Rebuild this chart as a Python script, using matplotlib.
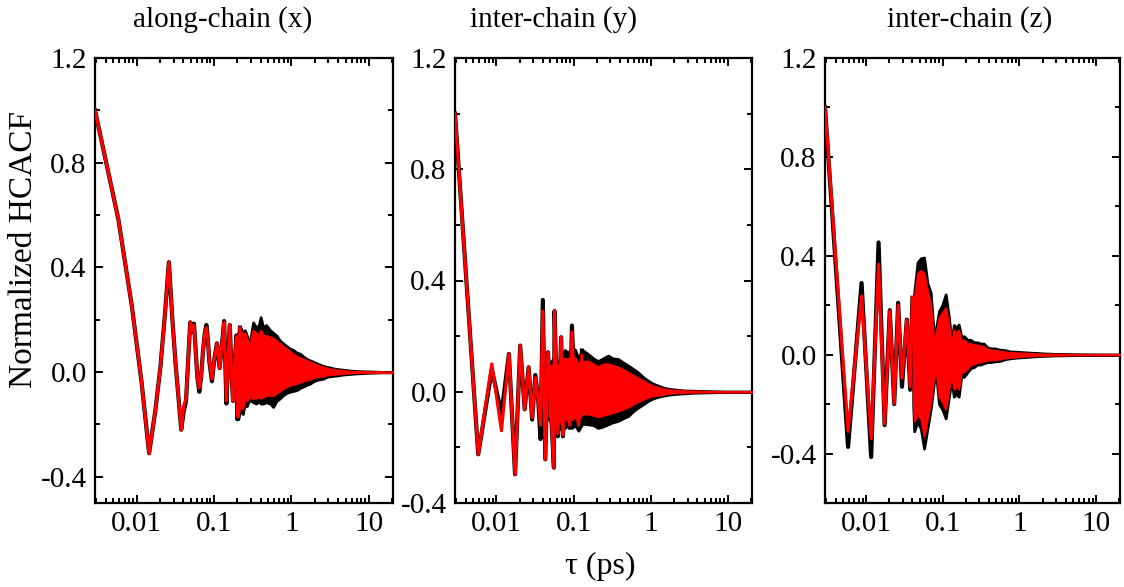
import matplotlib

matplotlib.use("Agg")
import matplotlib.pyplot as plt
from matplotlib.ticker import FixedLocator, FormatStrFormatter, FuncFormatter, LogLocator, NullFormatter

plt.rcParams["font.family"] = ["Liberation Serif", "DejaVu Serif"]
plt.rcParams["axes.unicode_minus"] = False

# ---- data ----
titles = ["along-chain (x)", "inter-chain (y)", "inter-chain (z)"]
ylims = [(-0.5, 1.2), (-0.4, 1.2), (-0.6, 1.2)]

# panel 1: resolved part of the curves
tau1 = [0.0029, 0.0058, 0.0087, 0.0116, 0.0145, 0.0174, 0.0203, 0.0232, 0.0261, 0.029,
        0.0319, 0.0348, 0.0377, 0.0406, 0.0435, 0.0464, 0.0493, 0.0522, 0.0551, 0.058,
        0.0609, 0.0645, 0.068, 0.072, 0.076, 0.0797, 0.083, 0.087, 0.094, 0.101,
        0.109, 0.118, 0.126, 0.135, 0.1445, 0.152, 0.16, 0.168, 0.176, 0.186,
        0.195, 0.2, 0.208, 0.216]
red1 = [1.0, 0.585, 0.25, -0.04, -0.31, -0.15, 0.02, 0.22, 0.42, 0.2,
        0.03, -0.1, -0.22, -0.13, -0.1, 0.05, 0.19, 0.155, 0.18, 0.08,
        -0.02, -0.06, -0.02, 0.08, 0.15, 0.17, 0.13, 0.04, -0.025, 0.05,
        0.11, 0.015, 0.1, 0.19, -0.11, 0.05, 0.18, 0.0, -0.11, 0.05,
        0.136, -0.17, 0.0, 0.168]
black1 = [1.0, 0.585, 0.25, -0.04, -0.31, -0.15, 0.02, 0.22, 0.42, 0.2,
          0.03, -0.1, -0.22, -0.15, -0.11, 0.05, 0.19, 0.155, 0.185, 0.08,
          -0.02, -0.075, -0.02, 0.08, 0.15, 0.18, 0.13, 0.04, -0.035, 0.05,
          0.11, 0.015, 0.1, 0.195, -0.12, 0.05, 0.18, 0.0, -0.11, 0.05,
          0.14, -0.18, 0.0, 0.17]

# panel 1: dense part (envelopes)
band_tau1 = [0.205, 0.22, 0.235, 0.25, 0.265, 0.28, 0.29, 0.30, 0.32, 0.35,
             0.38, 0.40, 0.43, 0.47, 0.53, 0.58, 0.64, 0.71, 0.78, 0.86,
             0.95, 1.05, 1.16, 1.3, 1.42, 1.58, 1.73, 1.9, 2.11, 2.35,
             2.57, 2.85, 3.14, 3.5, 3.83, 4.67, 5.7, 6.95, 9.0, 11.4, 15.0, 20.5]
black_hi1 = [0.15, 0.17, 0.15, 0.16, 0.14, 0.12, 0.04, 0.14, 0.19, 0.17,
             0.18, 0.21, 0.17, 0.18, 0.16, 0.15, 0.14, 0.12, 0.11, 0.1,
             0.09, 0.085, 0.075, 0.07, 0.06, 0.05, 0.045, 0.04, 0.034, 0.028,
             0.024, 0.02, 0.018, 0.014, 0.012, 0.009, 0.006, 0.004, 0.003, 0.002, 0.001, 0.001]
black_lo1 = [-0.18, -0.14, -0.16, -0.12, -0.13, -0.11, -0.03, -0.11, -0.115, -0.12,
             -0.11, -0.12, -0.12, -0.115, -0.12, -0.133, -0.11, -0.1, -0.088, -0.08,
             -0.075, -0.072, -0.069, -0.06, -0.055, -0.048, -0.044, -0.036, -0.03, -0.027,
             -0.025, -0.018, -0.016, -0.014, -0.013, -0.009, -0.007, -0.005, -0.003, -0.002, -0.001, -0.001]
red_hi1 = [0.14, 0.16, 0.14, 0.15, 0.13, 0.11, 0.03, 0.13, 0.16, 0.15,
           0.14, 0.16, 0.14, 0.14, 0.135, 0.13, 0.12, 0.11, 0.1, 0.09,
           0.08, 0.07, 0.06, 0.055, 0.05, 0.045, 0.04, 0.034, 0.028, 0.024,
           0.02, 0.016, 0.013, 0.011, 0.009, 0.006, 0.004, 0.003, 0.002, 0.001, 0.001, 0.001]
red_lo1 = [-0.17, -0.12, -0.14, -0.1, -0.11, -0.1, -0.02, -0.1, -0.1, -0.1,
           -0.095, -0.1, -0.095, -0.09, -0.088, -0.09, -0.08, -0.072, -0.063, -0.056,
           -0.05, -0.047, -0.044, -0.038, -0.034, -0.03, -0.028, -0.022, -0.018, -0.016,
           -0.015, -0.011, -0.01, -0.009, -0.008, -0.005, -0.003, -0.002, -0.001, -0.001, -0.001, -0.001]

# panel 2
tau2 = [0.0029, 0.0058, 0.0087, 0.0116, 0.0145, 0.0174, 0.0203, 0.0232, 0.0261, 0.029,
        0.0319, 0.0348, 0.0372, 0.0399, 0.0429, 0.0465, 0.0502, 0.0555, 0.0566, 0.0625,
        0.069, 0.0726, 0.0801, 0.089, 0.095, 0.105, 0.116, 0.128]
red2 = [1.0, -0.225, 0.1, -0.14, 0.136, -0.297, 0.166, -0.063, 0.088, -0.093,
        0.05, -0.03, -0.12, 0.29, -0.243, 0.142, -0.04, -0.273, 0.29, -0.15,
        0.196, -0.155, 0.105, -0.12, 0.215, -0.05, -0.12, 0.13]
black2 = [1.0, -0.225, 0.08, -0.08, 0.136, -0.297, 0.166, -0.063, 0.088, -0.1,
          0.06, -0.03, -0.17, 0.33, -0.243, 0.142, -0.04, -0.273, 0.29, -0.16,
          0.196, -0.16, 0.11, -0.13, 0.238, -0.05, -0.13, 0.148]

band_tau2 = [0.048, 0.055, 0.062, 0.07, 0.077, 0.085, 0.095, 0.105, 0.115, 0.13,
             0.153, 0.18, 0.207, 0.24, 0.28, 0.32, 0.375, 0.44, 0.51, 0.59,
             0.68, 0.8, 0.92, 1.05, 1.24, 1.45, 1.67, 2.05, 2.6, 3.3,
             4.3, 6.0, 9.0, 14.0, 20.5]
black_hi2 = [0.1, 0.12, 0.1, 0.13, 0.15, 0.14, 0.16, 0.15, 0.12, 0.15,
             0.136, 0.12, 0.11, 0.12, 0.13, 0.12, 0.118, 0.105, 0.094, 0.082,
             0.07, 0.052, 0.04, 0.03, 0.022, 0.015, 0.011, 0.008, 0.005, 0.004,
             0.003, 0.002, 0.001, 0.001, 0.001]
black_lo2 = [-0.1, -0.12, -0.1, -0.14, -0.13, -0.12, -0.13, -0.12, -0.14, -0.115,
             -0.117, -0.12, -0.13, -0.125, -0.117, -0.11, -0.105, -0.095, -0.087, -0.07,
             -0.057, -0.045, -0.033, -0.025, -0.018, -0.014, -0.011, -0.008, -0.006, -0.004,
             -0.003, -0.002, -0.001, -0.001, -0.001]
red_hi2 = [0.09, 0.1, 0.09, 0.12, 0.12, 0.12, 0.13, 0.12, 0.1, 0.11,
           0.11, 0.1, 0.09, 0.1, 0.1, 0.095, 0.09, 0.08, 0.07, 0.06,
           0.05, 0.04, 0.03, 0.022, 0.016, 0.011, 0.008, 0.006, 0.004, 0.003,
           0.002, 0.001, 0.001, 0.001, 0.001]
red_lo2 = [-0.09, -0.1, -0.09, -0.12, -0.1, -0.1, -0.1, -0.09, -0.1, -0.08,
           -0.08, -0.085, -0.09, -0.085, -0.08, -0.075, -0.07, -0.062, -0.055, -0.045,
           -0.035, -0.027, -0.02, -0.015, -0.012, -0.009, -0.006, -0.004, -0.003, -0.002,
           -0.001, -0.001, -0.001, -0.001, -0.001]

# panel 3
tau3 = [0.0029, 0.0058, 0.0087, 0.0116, 0.0145, 0.0174, 0.0203, 0.0232, 0.0261, 0.0293,
        0.0339, 0.0375, 0.0401]
red3 = [1.0, -0.31, 0.237, -0.34, 0.366, -0.28, 0.176, -0.197, 0.2, -0.095,
        0.14, -0.13, 0.23]
black3 = [1.0, -0.373, 0.29, -0.414, 0.454, -0.285, 0.18, -0.2, 0.21, -0.13,
          0.142, -0.142, 0.23]

band_tau3 = [0.041, 0.0423, 0.0467, 0.0516, 0.0569, 0.0628, 0.0695, 0.0767, 0.083, 0.089,
             0.098, 0.109, 0.12, 0.13, 0.139, 0.15, 0.161, 0.175, 0.188, 0.21,
             0.229, 0.255, 0.28, 0.31, 0.34, 0.38, 0.415, 0.48, 0.56, 0.65,
             0.75, 0.9, 1.12, 1.4, 1.67, 2.05, 3.0, 5.0, 10.0, 20.5]
black_hi3 = [0.2, 0.25, 0.373, 0.39, 0.393, 0.29, 0.25, 0.07, 0.12, 0.176,
             0.2, 0.244, 0.15, 0.05, 0.12, 0.11, 0.122, 0.07, 0.075, 0.06,
             0.06, 0.05, 0.05, 0.045, 0.045, 0.03, 0.026, 0.025, 0.02, 0.018,
             0.013, 0.012, 0.01, 0.008, 0.007, 0.005, 0.003, 0.002, 0.001, 0.001]
black_lo3 = [-0.2, -0.31, -0.27, -0.3, -0.38, -0.3, -0.22, -0.11, -0.1, -0.2,
             -0.22, -0.258, -0.17, -0.1, -0.17, -0.16, -0.17, -0.08, -0.09, -0.07,
             -0.055, -0.05, -0.04, -0.04, -0.035, -0.03, -0.03, -0.027, -0.025, -0.018,
             -0.015, -0.012, -0.01, -0.008, -0.006, -0.005, -0.003, -0.002, -0.001, -0.001]
red_hi3 = [0.18, 0.23, 0.33, 0.34, 0.33, 0.26, 0.2, 0.05, 0.1, 0.15,
           0.17, 0.19, 0.12, 0.04, 0.1, 0.09, 0.1, 0.055, 0.06, 0.045,
           0.045, 0.04, 0.04, 0.035, 0.033, 0.022, 0.02, 0.018, 0.014, 0.012,
           0.009, 0.008, 0.007, 0.005, 0.004, 0.003, 0.002, 0.001, 0.001, 0.001]
red_lo3 = [-0.18, -0.27, -0.24, -0.26, -0.33, -0.26, -0.19, -0.09, -0.08, -0.17,
           -0.19, -0.22, -0.14, -0.08, -0.14, -0.13, -0.14, -0.065, -0.07, -0.055,
           -0.042, -0.038, -0.03, -0.03, -0.026, -0.022, -0.022, -0.02, -0.018, -0.013,
           -0.011, -0.009, -0.007, -0.005, -0.004, -0.003, -0.002, -0.001, -0.001, -0.001]

panels = [
    (tau1, black1, red1, band_tau1, black_hi1, black_lo1, red_hi1, red_lo1),
    (tau2, black2, red2, band_tau2, black_hi2, black_lo2, red_hi2, red_lo2),
    (tau3, black3, red3, band_tau3, black_hi3, black_lo3, red_hi3, red_lo3),
]

# axes boxes in pixels (left, right); all share top and bottom
W, H = 1124, 587
boxes = [(95, 393), (455, 752), (825, 1120)]
top_px, bot_px = 58, 503

fig = plt.figure(figsize=(W / 100, H / 100), dpi=100)

for i, (l, r) in enumerate(boxes):
    ax = fig.add_axes([l / W, 1 - bot_px / H, (r - l) / W, (bot_px - top_px) / H])
    tau, blk, red, btau, bhi, blo, rhi, rlo = panels[i]

    ax.fill_between(btau, blo, bhi, color="black", lw=2.0, zorder=1)
    ax.plot(tau, blk, color="black", lw=3.0, zorder=2)
    ax.fill_between(btau, rlo, rhi, color="red", lw=1.4, zorder=3)
    ax.plot(tau, red, color="red", lw=2.3, zorder=4)

    ax.set_xscale("log")
    ax.set_xlim(0.0029, 20.5)
    ax.set_ylim(*ylims[i])

    ax.xaxis.set_major_locator(FixedLocator([0.01, 0.1, 1, 10]))
    ax.xaxis.set_major_formatter(FuncFormatter(lambda v, p: "%g" % v))
    ax.xaxis.set_minor_locator(LogLocator(base=10, subs=range(2, 10), numticks=20))
    ax.xaxis.set_minor_formatter(NullFormatter())

    ax.yaxis.set_major_locator(FixedLocator([-0.4, 0.0, 0.4, 0.8, 1.2]))
    ax.yaxis.set_minor_locator(FixedLocator([-0.2, 0.2, 0.6, 1.0]))
    ax.yaxis.set_major_formatter(FormatStrFormatter("%.1f"))

    ax.tick_params(which="both", direction="in", top=True, right=True, width=1.4,
                   labelsize=21, pad=6)
    ax.tick_params(which="major", length=6)
    ax.tick_params(which="minor", length=3.5)
    for s in ax.spines.values():
        s.set_linewidth(1.6)

title_x = [223, 554, 970]
for t, x in zip(titles, title_x):
    fig.text(x / W, 1 - 20 / H, t, ha="center", va="center", fontsize=21)

fig.text(24 / W, 1 - 250 / H, "Normalized HCACF", rotation=90, ha="center", va="center",
         fontsize=24)
fig.text(600 / W, 1 - 566 / H, "τ (ps)", ha="center", va="center", fontsize=23)

fig.savefig("out.png", dpi=100)
